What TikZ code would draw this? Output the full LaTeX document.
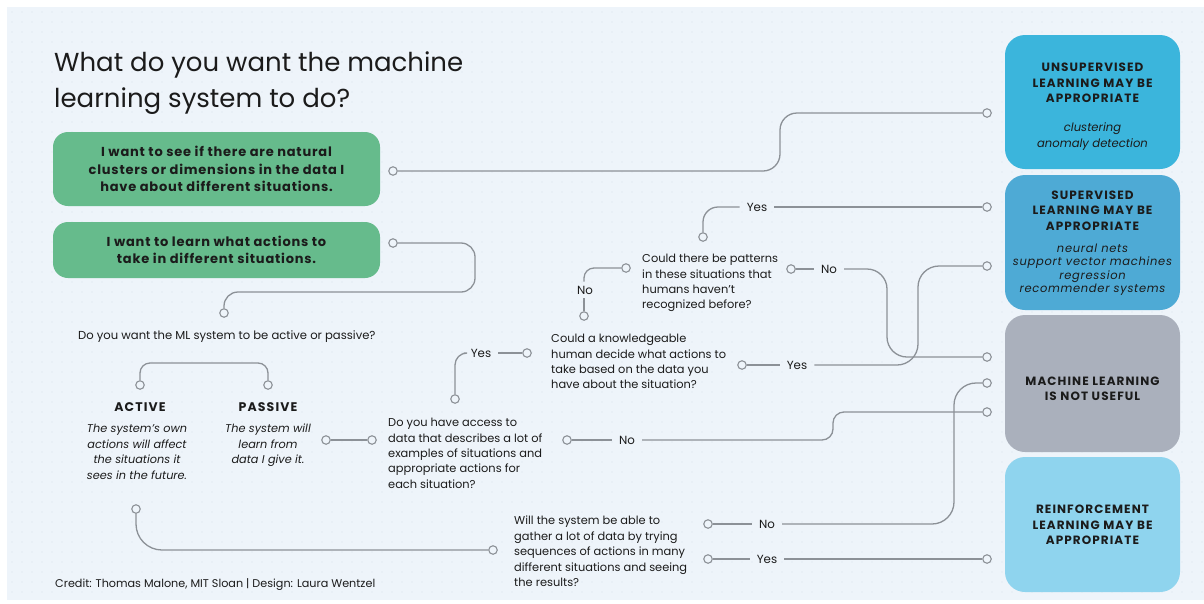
\documentclass[tikz,border=0pt]{standalone}
\usepackage{fontspec}
\setmainfont{Poppins}
\newfontfamily\capsf[LetterSpace=9]{Poppins}
\newfontfamily\boldsp[LetterSpace=6]{Poppins}
\newfontfamily\itsp[LetterSpace=6]{Poppins}
\definecolor{bg}{HTML}{EEF4FA}
\definecolor{dotc}{HTML}{D8E1EB}
\definecolor{greenc}{HTML}{66BB8C}
\definecolor{unsc}{HTML}{3BB5DC}
\definecolor{supc}{HTML}{4EAAD5}
\definecolor{mlc}{HTML}{AAB0BC}
\definecolor{rlc}{HTML}{8FD4EE}
\definecolor{linec}{HTML}{8C9197}
\definecolor{txt}{HTML}{1B1B1B}
\newcommand{\capsb}{\capsf\bfseries\fontsize{12}{15.5}\selectfont}
\newcommand{\itu}[1]{{\normalfont\itshape\fontsize{11.6}{14}\selectfont #1}}
\newcommand{\its}[1]{{\itsp\mdseries\itshape\fontsize{11.5}{14}\selectfont #1}}
\tikzset{
  conn/.style={draw=linec, line width=1.3pt},
  dot/.style={circle, draw=linec, fill=bg, line width=1.1pt, minimum size=8.5pt, inner sep=0pt},
  lbl/.style={font=\fontsize{11.8}{13}\selectfont, text=txt, inner xsep=7pt, inner ysep=3pt},
  qtext/.style={anchor=north west, align=left, inner sep=0pt, text=txt, font=\fontsize{11.4}{15.4}\selectfont},
  greenbox/.style={rounded corners=15pt, fill=greenc, minimum width=327pt, align=center, text=txt, font=\boldsp\bfseries\fontsize{13}{17.5}\selectfont},
  rbox/.style={rounded corners=20pt, minimum width=175pt, inner sep=0pt},
  rtext/.style={align=center, text=txt, inner sep=0pt, font=\capsb},
}
\begin{document}
\begin{tikzpicture}[x=1pt,y=-1pt]
\useasboundingbox (0,0) rectangle (1204,603);
\fill[white] (0,0) rectangle (1204,603);
\fill[bg] (7,7) rectangle (1204,600);
\foreach \x in {12,22,...,1202} \foreach \y in {12,22,...,592} \fill[dotc] (\x,\y) circle (0.6);

% title
\node[anchor=north west, align=left, inner sep=0pt, text=txt, font=\fontsize{26}{36}\selectfont] (title) at (54,52) {What do you want the machine\\learning system to do?};

% green boxes
\node[greenbox, minimum height=74pt] (g1) at (216.5,169) {I want to see if there are natural\\clusters or dimensions in the data I\\have about different situations.};
\node[greenbox, minimum height=56pt] (g2) at (216.5,250) {I want to learn what actions to\\take in different situations.};

% right boxes
\node[rbox, fill=unsc, minimum height=134pt] (unsup) at (1092.5,102) {};
\node[rbox, fill=supc, minimum height=135pt] (sup) at (1092.5,242.5) {};
\node[rbox, fill=mlc, minimum height=137pt] (ml) at (1092.5,383.5) {};
\node[rbox, fill=rlc, minimum height=135pt] (rl) at (1092.5,524.5) {};
\node[rtext] (unsupt) at (1092.5,107) {UNSUPERVISED\\LEARNING MAY BE\\APPROPRIATE\\[13.5pt]\itu{clustering}\\[0.5pt]\itu{anomaly detection}};
\node[rtext] (supt) at (1092.5,243) {SUPERVISED\\LEARNING MAY BE\\APPROPRIATE\\[6.5pt]\its{neural nets}\\[-2pt]\its{support vector machines}\\[-2pt]\its{regression}\\[-2.5pt]\its{recommender systems}};
\node[rtext] (mlt) at (1092.5,389) {MACHINE LEARNING\\IS NOT USEFUL};
\node[rtext] (rlt) at (1092.5,525) {REINFORCEMENT\\LEARNING MAY BE\\APPROPRIATE};

% questions and texts
\node[anchor=west, inner sep=0pt, text=txt, font=\fontsize{11.6}{13}\selectfont] (qap) at (78,337) {Do you want the ML system to be active or passive?};
\node[text=txt, inner sep=0pt, font=\capsf\bfseries\fontsize{12.5}{13}\selectfont] (active) at (140,407) {ACTIVE};
\node[text=txt, inner sep=0pt, font=\capsf\bfseries\fontsize{12.5}{13}\selectfont] (passive) at (268,407) {PASSIVE};
\node[anchor=north, align=center, inner sep=0pt, text=txt, font=\itshape\fontsize{11.3}{15.5}\selectfont] (activet) at (137,424) {The system’s own\\actions will affect\\the situations it\\sees in the future.};
\node[anchor=north, align=center, inner sep=0pt, text=txt, font=\itshape\fontsize{11.3}{15.5}\selectfont] (passivet) at (268,424) {The system will\\learn from\\data I give it.};

\node[qtext] (q1) at (388,418) {Do you have access to\\data that describes a lot of\\examples of situations and\\appropriate actions for\\each situation?};
\node[qtext] (q2) at (551,334) {Could a knowledgeable\\human decide what actions to\\take based on the data you\\have about the situation?};
\node[qtext] (q3) at (642,254) {Could there be patterns\\in these situations that\\humans haven’t\\recognized before?};
\node[qtext] (q4) at (514,516) {Will the system be able to\\gather a lot of data by trying\\sequences of actions in many\\different situations and seeing\\the results?};

\node[anchor=west, inner sep=0pt, text=txt, font=\fontsize{11.2}{12}\selectfont] (credit) at (55,585) {Credit: Thomas Malone, MIT Sloan | Design: Laura Wentzel};

% connector dots
\node[dot] (u1) at (393,171) {};
\node[dot] (uE) at (987,113) {};
\node[dot] (gd) at (393,243) {};
\node[dot] (ap) at (224,313) {};
\node[dot] (ac) at (140,385) {};
\node[dot] (pa) at (268,385) {};
\node[dot] (pr) at (326,440) {};
\node[dot] (q1l) at (372,440) {};
\node[dot] (q1t) at (455,399) {};
\node[dot] (q2l) at (527,353) {};
\node[dot] (q2t) at (584,316) {};
\node[dot] (q3l) at (626,268) {};
\node[dot] (q3t) at (703,237) {};
\node[dot] (s1) at (987,207) {};
\node[dot] (q3r) at (791,269) {};
\node[dot] (m1) at (987,357) {};
\node[dot] (q2r) at (742,365) {};
\node[dot] (s2) at (987,266) {};
\node[dot] (q1r) at (567,440) {};
\node[dot] (m3) at (987,412) {};
\node[dot] (ab) at (136,509) {};
\node[dot] (q4l) at (493,550) {};
\node[dot] (q4n) at (708,524) {};
\node[dot] (m2) at (987,383) {};
\node[dot] (q4y) at (708,559) {};
\node[dot] (r1) at (987,559) {};

% labels
\node[lbl] (y1) at (481,353) {Yes};
\node[lbl, inner ysep=4pt] (n1) at (585,290) {No};
\node[lbl] (y2) at (757,207) {Yes};
\node[lbl] (n2) at (829,269) {No};
\node[lbl] (y3) at (797,365) {Yes};
\node[lbl] (n3) at (627,440) {No};
\node[lbl] (n4) at (767,524) {No};
\node[lbl] (y4) at (767,559) {Yes};

% connectors
\draw[conn, rounded corners=17pt] (u1) -- (780,171) -- (780,113) -- (uE);
\draw[conn, rounded corners=14pt] (gd) -- (475,243) -- (475,292) -- (224,292) -- (ap);
\draw[conn, rounded corners=10pt] (ac) -- (140,363) -- (268,363) -- (pa);
\draw[conn] (pr) -- (q1l);
\draw[conn, rounded corners=12pt] (q1t) -- (455,353) -- (y1.west);
\draw[conn] (y1) -- (q2l);
\draw[conn] (q2t) -- (q2t |- n1.south);
\draw[conn, rounded corners=10pt] (q2t |- n1.north) -- (584,268) -- (q3l);
\draw[conn, rounded corners=15pt] (q3t) -- (703,207) -- (y2.west);
\draw[conn] (y2) -- (s1);
\draw[conn] (q3r) -- (n2);
\draw[conn, rounded corners=20pt] (n2.east) -- (887,269) -- (887,357) -- (m1);
\draw[conn] (q2r) -- (y3);
\draw[conn, rounded corners=21pt] (y3.east) -- (918,365) -- (918,266) -- (s2);
\draw[conn] (q1r) -- (n3);
\draw[conn, rounded corners=11pt] (n3.east) -- (833,440) -- (833,412) -- (m3);
\draw[conn, rounded corners=26pt] (ab) -- (136,550) -- (q4l);
\draw[conn] (q4n) -- (n4);
\draw[conn, rounded corners=22pt] (n4.east) -- (954,524) -- (954,383) -- (m2);
\draw[conn] (q4y) -- (y4);
\draw[conn] (y4) -- (r1);
\end{tikzpicture}
\end{document}
